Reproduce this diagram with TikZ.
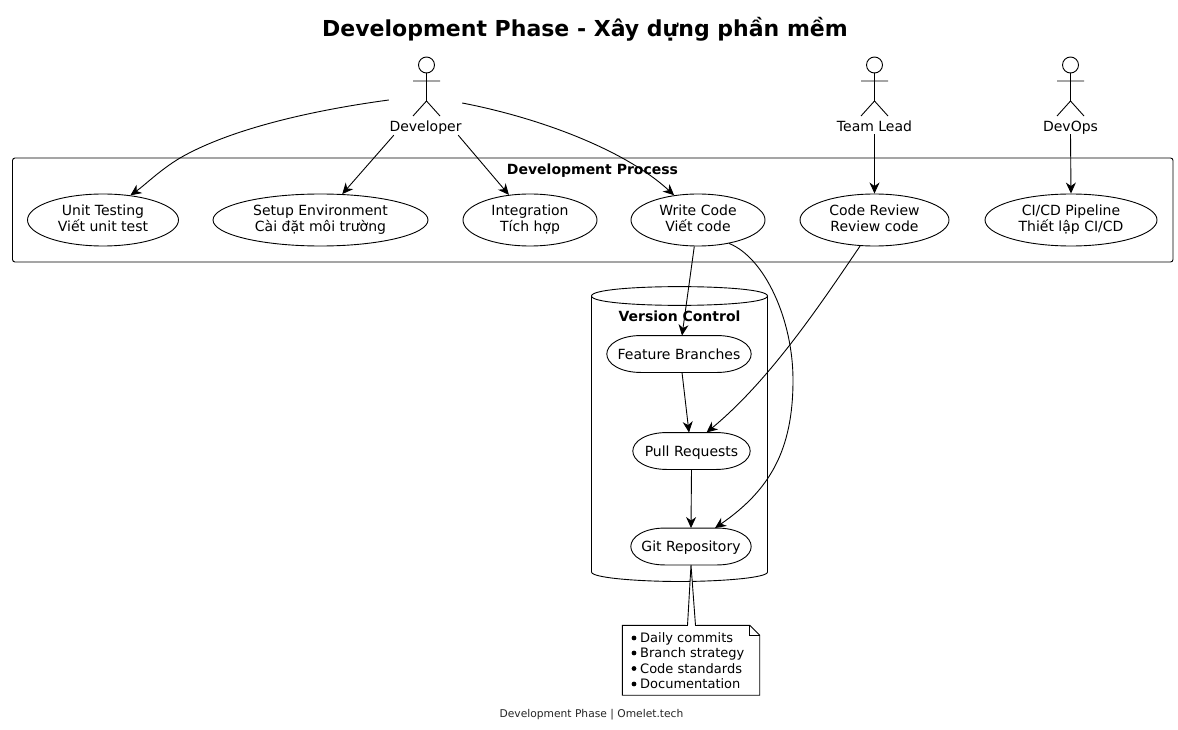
\documentclass[tikz,border=0pt]{standalone}
\usepackage{fontspec}
\setmainfont{DejaVu Sans}
\usetikzlibrary{arrows.meta,calc,shapes.geometric}
\newcommand{\fsz}[1]{\fontsize{#1}{16}\selectfont}
\tikzset{
  line/.style={line width=0.9pt,black},
  conn/.style={line,-{Stealth[length=11pt,width=10pt,inset=3.5pt]}},
  uc/.style={ellipse,draw,line width=0.9pt,inner sep=0pt,minimum height=52pt,align=center,font=\fsz{14},text height=26.4pt,text depth=3pt},
  pillbox/.style={rectangle,inner sep=0pt,minimum height=36.5pt,font=\fsz{14},text depth=0pt},
  actorbox/.style={rectangle,inner sep=0pt,font=\fsz{14}},
  actorlabel/.style={font=\fsz{14},inner sep=0pt,text depth=0pt},
  grouplabel/.style={font=\bfseries\fsz{14},inner sep=0pt,text depth=0pt},
  notetext/.style={anchor=west,inner sep=0pt,font=\fsz{13},text depth=0pt},
}
\newcommand{\pill}[1]{%
  \draw[line] (#1.west) .. controls ($(#1.west)+(0,-10)$) and ($(#1.north west)+(14,0)$) .. ($(#1.north west)+(34,0)$)
    -- ($(#1.north east)+(-34,0)$) .. controls ($(#1.north east)+(-14,0)$) and ($(#1.east)+(0,-10)$) .. (#1.east)
    .. controls ($(#1.east)+(0,10)$) and ($(#1.south east)+(-14,0)$) .. ($(#1.south east)+(-34,0)$)
    -- ($(#1.south west)+(34,0)$) .. controls ($(#1.south west)+(14,0)$) and ($(#1.west)+(0,10)$) .. (#1.west) -- cycle;}
\newcommand{\actor}[1]{%
  \draw[line] (#1,65) circle (8);
  \draw[line] (#1,73) -- (#1,101) (#1-13.5,81) -- (#1+13.5,81)
    (#1-13.5,116) -- (#1,101) -- (#1+13.5,116);}
\begin{document}
\begin{tikzpicture}[x=1pt,y=-1pt]
\useasboundingbox (0,0) rectangle (1178,730);
\fill[white] (0,0) rectangle (1178,730);
\node[font=\bfseries\fontsize{22}{24}\selectfont] (title) at (585,29) {Development Phase - Xây dựng phần mềm};

% Actors
\actor{426.5}
\actor{874.5}
\actor{1070.5}
\node[actorbox,minimum width=73pt,minimum height=79pt] (dev) at (425.5,95.5) {};
\node[actorlabel] (devl) at (425.5,126) {Developer};
\node[actorbox,minimum width=78pt,minimum height=77pt] (lead) at (874.5,95.5) {};
\node[actorlabel] (leadl) at (874.5,126) {Team Lead};
\node[actorbox,minimum width=58pt,minimum height=77pt] (ops) at (1070.5,95.5) {};
\node[actorlabel] (opsl) at (1070.5,126) {DevOps};

% Development Process package
\draw[line,rounded corners=2.5pt] (12.5,158) rectangle (1173,262);
\node[grouplabel] (pkg) at (592.5,169) {Development Process};

\node[uc,minimum width=151pt] (ut) at (103,220) {Unit Testing\\Viết unit test};
\node[uc,minimum width=215pt] (env) at (320.5,220) {Setup Environment\\Cài đặt môi trường};
\node[uc,minimum width=134pt] (integ) at (530,220) {Integration\\Tích hợp};
\node[uc,minimum width=134pt] (wc) at (698,220) {Write Code\\Viết code};
\node[uc,minimum width=149pt] (cr) at (874.5,220) {Code Review\\Review code};
\node[uc,minimum width=172pt] (ci) at (1071,220) {CI/CD Pipeline\\Thiết lập CI/CD};

% Version Control database
\draw[line] (591.5,296) .. controls (591.5,283.5) and (767.5,283.5) .. (767.5,296)
  .. controls (767.5,308.5) and (591.5,308.5) .. (591.5,296) -- cycle;
\draw[line] (591.5,296) -- (591.5,572) .. controls (591.5,578) and (640,581.5) .. (679.5,581.5)
  .. controls (719,581.5) and (767.5,578) .. (767.5,572) -- (767.5,296);
\node[grouplabel] (vc) at (679.5,316) {Version Control};

\node[pillbox,minimum width=144pt] (fb) at (679,354) {Feature Branches};
\node[pillbox,minimum width=117pt] (pr) at (691.5,451) {Pull Requests};
\node[pillbox,minimum width=120pt] (git) at (691,546.5) {Git Repository};
\pill{fb}\pill{pr}\pill{git}

% Note
\node[rectangle,inner sep=0pt,minimum width=137pt,minimum height=69.5pt] (note) at (691,660.25) {};
\draw[line,fill=white] ($(git.south)+(-3.5,60.5)$) -- (note.north west) -- (note.south west) -- (note.south east)
  -- ($(note.north east)+(0,10)$) -- ($(note.north east)+(-10,0)$) -- ($(git.south)+(4.5,60.5)$) -- (git.south) -- cycle;
\draw[line] ($(note.north east)+(-10,0)$) -- ($(note.north east)+(-10,10)$) -- ($(note.north east)+(0,10)$);
\foreach \yy/\tt in {638/Daily commits,653/Branch strategy,668.5/Code standards,684/Documentation}{
  \fill (634,\yy) circle (2.4);
  \node[notetext] at (640,\yy) {\tt};
}

% Connectors
\draw[conn] ($(dev.west)+(0,4.5)$) .. controls (300,112) and (225,132) .. (180,158) .. controls (160,170) and (145,185) .. (ut.42);
\draw[conn] ($(dev.south west)+(5,0)$) -- (env.50);
\draw[conn] ($(dev.south east)+(-4,0)$) -- (integ.130);
\draw[conn] ($(dev.east)+(0,7.5)$) .. controls (540,118) and (625,150) .. (wc.134);
\draw[conn] (lead.south) -- (cr.north);
\draw[conn] (ops.south) -- (ci.north);
\draw[conn] (wc.-98) -- ($(fb.north)+(3,0)$);
\draw[conn] (wc.-37) .. controls (765,258) and (793,320) .. (793,380) .. controls (793,450) and (770,490) .. ($(git.north)+(24,0)$);
\draw[conn] (cr.-119) .. controls (820,305) and (770,380) .. ($(pr.north)+(15,0)$);
\draw[conn] ($(fb.south)+(3,0)$) -- ($(pr.north)+(-2.5,0)$);
\draw[conn] (pr.south) -- (git.north);

\node[font=\fontsize{10.7}{12}\selectfont,text=black!85,inner sep=0pt,text depth=0pt] (foot) at (591.5,713) {Development Phase | Omelet.tech};
\end{tikzpicture}
\end{document}
